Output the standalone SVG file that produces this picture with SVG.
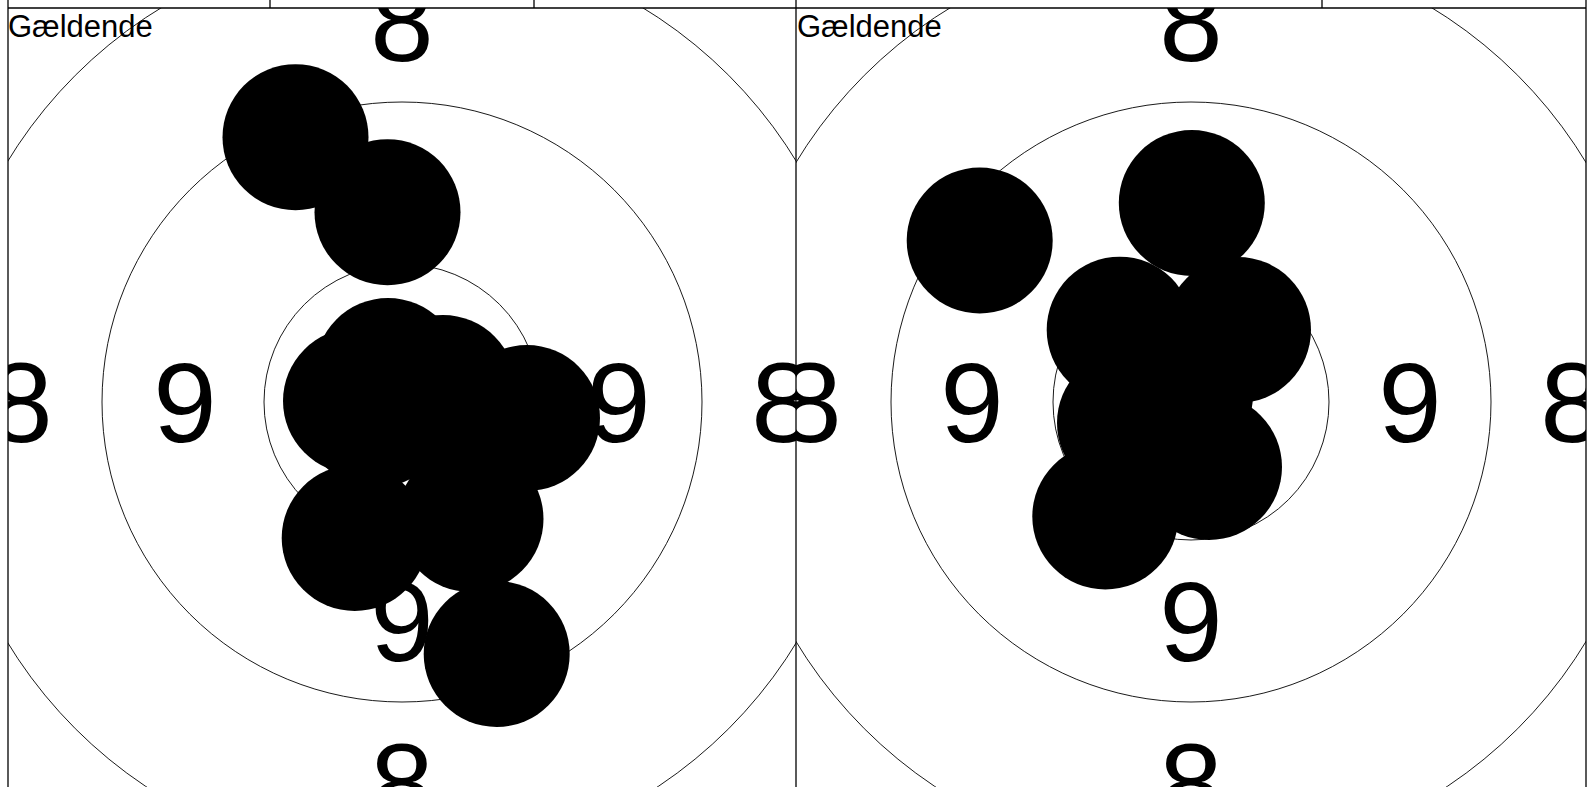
<svg xmlns="http://www.w3.org/2000/svg" width="1588" height="787" viewBox="0 0 1588 787">
  <style>
    .ring { fill: none; stroke: #000; stroke-width: 0.9; }
    .frame { stroke: #000; stroke-width: 1.3; fill: none; }
    .num { font-family: "Liberation Sans", Arial, sans-serif; font-size: 114px; fill: #000; text-anchor: middle; }
    .lbl { font-family: "Liberation Sans", Arial, sans-serif; font-size: 31px; fill: #000; }
    .hit { fill: #000; }
  </style>
  <defs>
    <clipPath id="clipL"><rect x="8" y="8" width="788" height="788"/></clipPath>
    <clipPath id="clipR"><rect x="796" y="8" width="790" height="788"/></clipPath>
  </defs>
  <rect x="0" y="0" width="1588" height="787" fill="#fff"/>

  <g id="panel-left" clip-path="url(#clipL)">
    <g id="rings-left">
      <circle class="ring" cx="402" cy="402" r="462"/>
      <circle class="ring" cx="402" cy="402" r="300"/>
      <circle class="ring" cx="402" cy="402" r="138"/>
    </g>
    <g id="labels-left">
      <text class="num" x="21" y="442">8</text>
      <text class="num" x="783" y="442">8</text>
      <text class="num" x="402" y="61">8</text>
      <text class="num" x="402" y="823">8</text>
      <text class="num" x="185" y="442">9</text>
      <text class="num" x="619" y="442">9</text>
      <text class="num" x="402" y="661">9</text>
    </g>
    <text class="lbl" x="8" y="36.5">Gældende</text>
    <g id="hits-left">
      <circle class="hit" cx="295.5" cy="137.2" r="73"/>
      <circle class="hit" cx="387.5" cy="212.2" r="73"/>
      <circle class="hit" cx="388" cy="371" r="73"/>
      <circle class="hit" cx="443" cy="388" r="73"/>
      <circle class="hit" cx="356" cy="401" r="73"/>
      <circle class="hit" cx="376" cy="414.5" r="73"/>
      <circle class="hit" cx="527" cy="418" r="73"/>
      <circle class="hit" cx="470.5" cy="519" r="73"/>
      <circle class="hit" cx="354.7" cy="538" r="73"/>
      <circle class="hit" cx="496.7" cy="654" r="73"/>
    </g>
  </g>

  <g id="panel-right" clip-path="url(#clipR)">
    <g id="rings-right">
      <circle class="ring" cx="1191" cy="402" r="462"/>
      <circle class="ring" cx="1191" cy="402" r="300"/>
      <circle class="ring" cx="1191" cy="402" r="138"/>
    </g>
    <g id="labels-right">
      <text class="num" x="810" y="442">8</text>
      <text class="num" x="1572" y="442">8</text>
      <text class="num" x="1191" y="61">8</text>
      <text class="num" x="1191" y="823">8</text>
      <text class="num" x="972" y="442">9</text>
      <text class="num" x="1410" y="442">9</text>
      <text class="num" x="1191" y="661">9</text>
    </g>
    <text class="lbl" x="797" y="36.5">Gældende</text>
    <g id="hits-right">
      <circle class="hit" cx="979.7" cy="240.5" r="73"/>
      <circle class="hit" cx="1191.8" cy="203" r="73"/>
      <circle class="hit" cx="1119.7" cy="329.7" r="73"/>
      <circle class="hit" cx="1238" cy="330" r="73"/>
      <circle class="hit" cx="1180" cy="395" r="73"/>
      <circle class="hit" cx="1130" cy="423" r="73"/>
      <circle class="hit" cx="1209" cy="467" r="73"/>
      <circle class="hit" cx="1105.3" cy="516.5" r="73"/>
    </g>
  </g>

  <g id="frame">
    <line class="frame" x1="8" y1="8" x2="1586" y2="8"/>
    <line class="frame" x1="8" y1="0" x2="8" y2="787"/>
    <line class="frame" x1="796" y1="0" x2="796" y2="787"/>
    <line class="frame" x1="1586" y1="0" x2="1586" y2="787"/>
    <line class="frame" x1="270" y1="0" x2="270" y2="8"/>
    <line class="frame" x1="534" y1="0" x2="534" y2="8"/>
    <line class="frame" x1="1322" y1="0" x2="1322" y2="8"/>
  </g>
</svg>
